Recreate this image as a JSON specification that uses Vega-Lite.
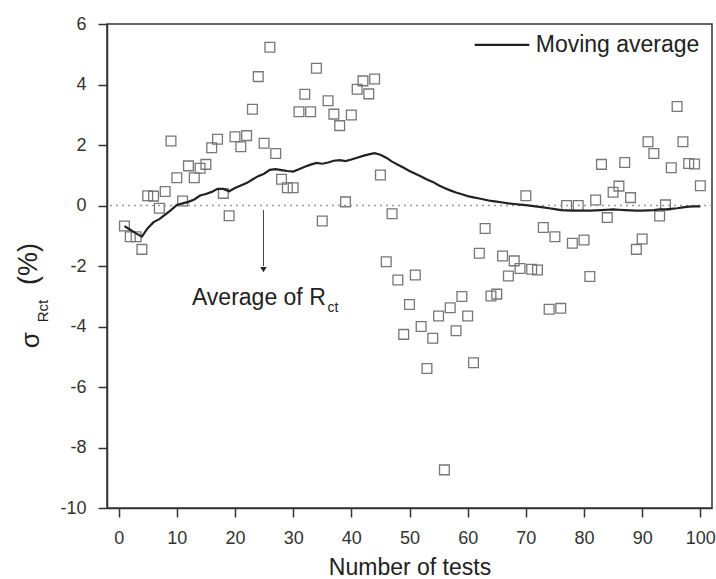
{
  "$schema": "https://vega.github.io/schema/vega-lite/v6.json",
  "width": 605,
  "height": 484,
  "autosize": {"type": "none"},
  "padding": {"left": 107, "top": 24, "right": 4, "bottom": 71},
  "background": "white",
  "config": {
    "view": {"stroke": "#333", "strokeWidth": 1.5},
    "font": "Liberation Sans",
    "text": {"font": "Liberation Sans", "color": "#222"}
  },
  "data": {"values": [
    {"n":1,"s":-0.68,"ma":-0.68},{"n":2,"s":-1.03,"ma":-0.80},{"n":3,"s":-1.03,"ma":-0.92},{"n":4,"s":-1.45,"ma":-1.03},
    {"n":5,"s":0.32,"ma":-0.75},{"n":6,"s":0.31,"ma":-0.55},{"n":7,"s":-0.09,"ma":-0.45},{"n":8,"s":0.46,"ma":-0.30},
    {"n":9,"s":2.13,"ma":-0.15},{"n":10,"s":0.92,"ma":0.02},{"n":11,"s":0.15,"ma":0.07},{"n":12,"s":1.31,"ma":0.12},
    {"n":13,"s":0.92,"ma":0.20},{"n":14,"s":1.23,"ma":0.33},{"n":15,"s":1.36,"ma":0.38},{"n":16,"s":1.91,"ma":0.45},
    {"n":17,"s":2.19,"ma":0.55},{"n":18,"s":0.40,"ma":0.55},{"n":19,"s":-0.34,"ma":0.47},{"n":20,"s":2.27,"ma":0.58},
    {"n":21,"s":1.94,"ma":0.66},{"n":22,"s":2.31,"ma":0.74},{"n":23,"s":3.18,"ma":0.86},{"n":24,"s":4.26,"ma":0.97},
    {"n":25,"s":2.06,"ma":1.05},{"n":26,"s":5.23,"ma":1.18},{"n":27,"s":1.72,"ma":1.20},{"n":28,"s":0.87,"ma":1.17},
    {"n":29,"s":0.59,"ma":1.14},{"n":30,"s":0.59,"ma":1.12},{"n":31,"s":3.10,"ma":1.20},{"n":32,"s":3.68,"ma":1.28},
    {"n":33,"s":3.10,"ma":1.35},{"n":34,"s":4.54,"ma":1.41},{"n":35,"s":-0.51,"ma":1.38},{"n":36,"s":3.46,"ma":1.42},
    {"n":37,"s":3.02,"ma":1.48},{"n":38,"s":2.64,"ma":1.50},{"n":39,"s":0.12,"ma":1.47},{"n":40,"s":2.99,"ma":1.52},
    {"n":41,"s":3.84,"ma":1.58},{"n":42,"s":4.12,"ma":1.64},{"n":43,"s":3.69,"ma":1.69},{"n":44,"s":4.18,"ma":1.73},
    {"n":45,"s":1.01,"ma":1.68},{"n":46,"s":-1.86,"ma":1.58},{"n":47,"s":-0.27,"ma":1.45},{"n":48,"s":-2.46,"ma":1.35},
    {"n":49,"s":-4.26,"ma":1.25},{"n":50,"s":-3.27,"ma":1.14},{"n":51,"s":-2.30,"ma":1.05},{"n":52,"s":-4.00,"ma":0.96},
    {"n":53,"s":-5.39,"ma":0.86},{"n":54,"s":-4.39,"ma":0.78},{"n":55,"s":-3.65,"ma":0.67},{"n":56,"s":-8.74,"ma":0.58},
    {"n":57,"s":-3.38,"ma":0.50},{"n":58,"s":-4.14,"ma":0.43},{"n":59,"s":-3.01,"ma":0.37},{"n":60,"s":-3.65,"ma":0.31},
    {"n":61,"s":-5.20,"ma":0.27},{"n":62,"s":-1.58,"ma":0.23},{"n":63,"s":-0.76,"ma":0.19},{"n":64,"s":-2.99,"ma":0.15},
    {"n":65,"s":-2.93,"ma":0.13},{"n":66,"s":-1.67,"ma":0.10},{"n":67,"s":-2.33,"ma":0.07},{"n":68,"s":-1.83,"ma":0.05},
    {"n":69,"s":-2.08,"ma":0.03},{"n":70,"s":0.32,"ma":0.01},{"n":71,"s":-2.11,"ma":-0.01},{"n":72,"s":-2.13,"ma":-0.04},
    {"n":73,"s":-0.73,"ma":-0.06},{"n":74,"s":-3.43,"ma":-0.09},{"n":75,"s":-1.03,"ma":-0.12},{"n":76,"s":-3.40,"ma":-0.15},
    {"n":77,"s":0.00,"ma":-0.16},{"n":78,"s":-1.25,"ma":-0.17},{"n":79,"s":0.00,"ma":-0.17},{"n":80,"s":-1.14,"ma":-0.17},
    {"n":81,"s":-2.35,"ma":-0.17},{"n":82,"s":0.18,"ma":-0.16},{"n":83,"s":1.36,"ma":-0.15},{"n":84,"s":-0.40,"ma":-0.14},
    {"n":85,"s":0.44,"ma":-0.13},{"n":86,"s":0.64,"ma":-0.14},{"n":87,"s":1.42,"ma":-0.15},{"n":88,"s":0.26,"ma":-0.16},
    {"n":89,"s":-1.45,"ma":-0.17},{"n":90,"s":-1.11,"ma":-0.17},{"n":91,"s":2.11,"ma":-0.16},{"n":92,"s":1.72,"ma":-0.15},
    {"n":93,"s":-0.35,"ma":-0.13},{"n":94,"s":0.02,"ma":-0.13},{"n":95,"s":1.25,"ma":-0.11},{"n":96,"s":3.27,"ma":-0.09},
    {"n":97,"s":2.11,"ma":-0.06},{"n":98,"s":1.39,"ma":-0.04},{"n":99,"s":1.37,"ma":-0.03},{"n":100,"s":0.65,"ma":-0.03}
  ]},
  "layer": [
    {
      "mark": {"type": "point", "shape": "square", "filled": false, "stroke": "#777", "strokeWidth": 1.3, "size": 95, "opacity": 1},
      "encoding": {
        "x": {"field": "n", "type": "quantitative",
          "scale": {"domain": [-2, 102], "nice": false, "zero": false},
          "axis": {
            "values": [0,5,10,15,20,25,30,35,40,45,50,55,60,65,70,75,80,85,90,95,100],
            "labelExpr": "datum.value % 10 === 0 ? '' + datum.value : ''",
            "tickSize": 9,
            "tickDash": {"condition": {"test": "datum.value % 10 !== 0", "value": [5, 30]}, "value": []},
            "tickColor": "#333", "tickWidth": 1.5,
            "domainColor": "#333", "domainWidth": 1.5,
            "grid": false,
            "labelFont": "Liberation Sans", "labelFontSize": 18, "labelColor": "#333", "labelPadding": 12,
            "labelFlush": false,
            "title": "Number of tests", "titleFont": "Liberation Sans", "titleFontSize": 23,
            "titleFontWeight": "normal", "titleColor": "#222", "titlePadding": 9
          }
        },
        "y": {"field": "s", "type": "quantitative",
          "scale": {"domain": [-10, 6], "nice": false, "zero": false},
          "axis": {
            "values": [-10,-9,-8,-7,-6,-5,-4,-3,-2,-1,0,1,2,3,4,5,6],
            "labelExpr": "datum.value % 2 === 0 ? '' + datum.value : ''",
            "tickSize": 9,
            "tickDash": {"condition": {"test": "datum.value % 2 !== 0", "value": [5, 30]}, "value": []},
            "tickColor": "#333", "tickWidth": 1.5,
            "domainColor": "#333", "domainWidth": 1.5,
            "grid": false,
            "labelFont": "Liberation Sans", "labelFontSize": 18, "labelColor": "#333", "labelPadding": 12,
            "labelFlush": false,
            "title": null
          }
        }
      }
    },
    {
      "data": {"values": [{}]},
      "mark": {"type": "rule", "color": "#999", "strokeDash": [2, 4], "strokeWidth": 1.5},
      "encoding": {"y": {"datum": 0, "type": "quantitative"}}
    },
    {
      "mark": {"type": "line", "color": "#222", "strokeWidth": 2.2},
      "encoding": {
        "x": {"field": "n", "type": "quantitative"},
        "y": {"field": "ma", "type": "quantitative"}
      }
    },
    {
      "data": {"values": [{}]},
      "mark": {"type": "rule", "color": "#444", "strokeWidth": 1},
      "encoding": {
        "x": {"datum": 24.9, "type": "quantitative"},
        "y": {"datum": -0.15, "type": "quantitative"},
        "y2": {"datum": -2.0}
      }
    },
    {
      "data": {"values": [{}]},
      "mark": {"type": "point", "shape": "triangle-down", "filled": true, "color": "#222", "size": 40, "opacity": 1},
      "encoding": {
        "x": {"datum": 24.9, "type": "quantitative"},
        "y": {"datum": -2.12, "type": "quantitative"}
      }
    },
    {
      "data": {"values": [{}]},
      "mark": {"type": "text", "text": "Average of R", "fontSize": 23, "align": "left", "baseline": "middle", "color": "#222"},
      "encoding": {
        "x": {"datum": 12.6, "type": "quantitative"},
        "y": {"datum": -3.06, "type": "quantitative"}
      }
    },
    {
      "data": {"values": [{}]},
      "mark": {"type": "text", "text": "ct", "fontSize": 14, "align": "left", "baseline": "middle", "color": "#222"},
      "encoding": {
        "x": {"datum": 35.9, "type": "quantitative"},
        "y": {"datum": -3.4, "type": "quantitative"}
      }
    },
    {
      "data": {"values": [{}]},
      "mark": {"type": "rule", "color": "#222", "strokeWidth": 2.2},
      "encoding": {
        "x": {"datum": 61.2, "type": "quantitative"},
        "x2": {"datum": 70.6},
        "y": {"datum": 5.31, "type": "quantitative"}
      }
    },
    {
      "data": {"values": [{}]},
      "mark": {"type": "text", "text": "Moving average", "fontSize": 23, "align": "left", "baseline": "middle", "color": "#222"},
      "encoding": {
        "x": {"datum": 71.7, "type": "quantitative"},
        "y": {"datum": 5.31, "type": "quantitative"}
      }
    },
    {
      "data": {"values": [{}]},
      "mark": {"type": "text", "text": "σ", "fontSize": 26, "angle": 270, "align": "center", "baseline": "middle", "color": "#222"},
      "encoding": {
        "x": {"datum": -15.1, "type": "quantitative"},
        "y": {"datum": -4.45, "type": "quantitative"}
      }
    },
    {
      "data": {"values": [{}]},
      "mark": {"type": "text", "text": "Rct", "fontSize": 15, "angle": 270, "align": "center", "baseline": "middle", "color": "#222"},
      "encoding": {
        "x": {"datum": -12.97, "type": "quantitative"},
        "y": {"datum": -3.49, "type": "quantitative"}
      }
    },
    {
      "data": {"values": [{}]},
      "mark": {"type": "text", "text": "(%)", "fontSize": 27, "angle": 270, "align": "center", "baseline": "middle", "color": "#222"},
      "encoding": {
        "x": {"datum": -15.46, "type": "quantitative"},
        "y": {"datum": -1.93, "type": "quantitative"}
      }
    }
  ]
}
